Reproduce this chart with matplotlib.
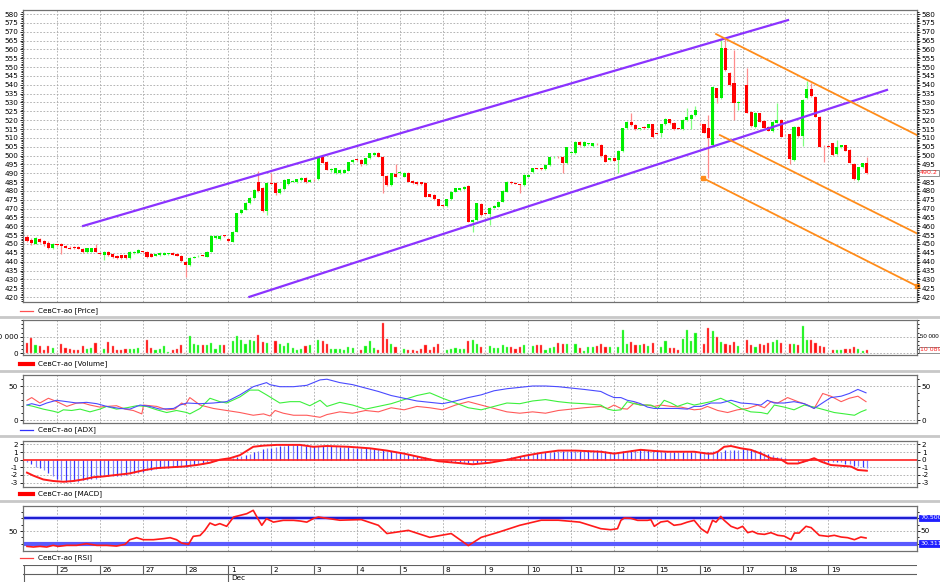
import matplotlib
matplotlib.use('Agg')
import matplotlib.pyplot as plt
from matplotlib.lines import Line2D
import numpy as np

plt.rcParams['font.family'] = ['DejaVu Sans']
plt.rcParams['axes.unicode_minus'] = False

# ---------------- data ----------------
opens = [453.8,452.3,450.2,452.7,451.9,450.4,447.6,449.5,450.0,448.9,
         448.0,448.5,448.5,447.4,445.3,445.7,447.6,444.8,444.0,445.3,
         444.2,443.3,443.5,443.5,441.8,444.8,445.1,445.7,445.7,444.2,
         443.3,443.6,444.0,444.2,444.8,444.4,443.3,440.0,438.0,442.3,
         443.0,443.3,442.9,445.7,453.3,452.7,454.6,452.7,451.4,457.0,
         467.4,469.3,473.1,475.9,485.3,481.5,468.4,484.4,484.4,478.7,
         480.9,484.0,485.3,484.8,485.9,487.2,485.3,486.2,486.6,499.4,
         496.4,492.0,490.0,490.0,490.4,491.5,496.2,497.6,497.6,495.3,
         498.5,500.4,501.7,499.4,488.7,483.4,489.6,490.0,488.1,490.4,
         485.7,485.3,484.9,484.7,478.1,477.7,475.3,471.6,471.3,475.3,
         479.6,480.6,481.1,482.8,462.7,463.6,472.6,467.4,466.8,470.6,
         471.1,474.0,479.6,485.3,484.4,483.8,483.4,488.0,490.6,492.8,
         492.8,492.2,494.7,499.0,499.2,499.4,495.6,501.3,501.3,507.9,
         505.4,506.5,505.4,506.5,506.0,500.3,497.5,498.5,497.6,502.6,
         515.4,519.2,517.3,515.0,516.3,515.7,517.7,512.5,512.5,517.7,
         520.5,518.6,515.4,515.0,520.1,520.5,522.9,518.0,517.6,515.4,
         506.0,538.0,532.3,560.6,546.5,540.8,529.9,530.2,539.9,524.8,
         516.2,523.9,519.6,516.4,513.9,518.6,520.1,511.6,512.0,497.5,
         516.3,511.1,532.3,537.4,533.2,522.0,505.4,505.4,506.9,500.7,
         504.9,505.8,503.1,495.2,486.2,493.4,495.6]
highs = [455.0,453.5,453.8,453.5,452.5,451.5,450.8,450.0,450.5,449.5,
         448.6,449.0,449.0,448.0,448.0,448.0,450.2,445.3,445.8,446.0,
         444.8,443.8,444.0,444.0,446.0,446.2,447.0,446.0,446.2,444.8,
         444.6,445.2,445.2,445.0,445.3,444.9,443.7,440.6,442.7,443.3,
         443.6,443.6,446.0,455.0,455.0,455.0,455.0,453.2,457.4,467.8,
         469.7,473.5,476.3,481.0,491.0,482.0,484.8,490.0,484.8,481.6,
         486.6,487.0,486.2,487.0,487.6,487.6,486.6,486.6,499.0,500.0,
         496.8,492.8,493.2,492.3,492.3,496.6,498.0,498.0,498.0,498.9,
         501.7,502.1,502.1,499.8,489.1,490.4,495.0,490.8,490.8,490.8,
         486.1,485.7,485.3,485.1,478.5,478.5,475.7,472.0,475.7,480.0,
         481.9,481.9,482.9,483.2,464.0,473.4,473.0,467.8,471.0,472.0,
         474.4,480.6,485.7,485.7,484.8,484.2,489.4,489.4,493.2,493.2,
         493.2,495.1,499.4,499.6,499.6,499.8,505.1,501.7,508.3,508.3,
         508.3,507.0,507.3,506.9,506.4,500.7,498.9,498.9,503.0,515.8,
         519.6,524.3,517.7,515.8,516.8,518.1,518.1,512.9,518.1,521.0,
         520.9,519.0,515.8,520.5,526.7,523.3,528.0,518.4,518.0,522.9,
         539.4,538.4,566.0,566.0,547.0,559.7,530.9,530.6,549.3,525.2,
         524.6,524.3,520.0,516.8,519.6,529.5,520.5,512.0,512.4,516.7,
         516.8,531.8,542.0,541.0,533.6,522.4,505.8,505.8,507.3,509.0,
         506.2,506.2,503.5,495.6,493.8,496.0,499.0]
lows = [451.0,449.5,449.8,450.5,449.0,447.0,447.2,449.0,444.4,447.5,
        447.0,447.2,447.0,445.0,445.0,445.3,445.3,444.2,441.0,443.0,
        442.0,441.3,441.3,441.3,441.5,444.5,444.8,445.0,442.0,442.5,
        443.0,443.3,443.6,443.9,443.5,443.0,440.0,431.6,437.6,441.9,
        442.6,443.0,442.6,445.3,453.0,452.3,454.2,451.4,451.0,456.6,
        467.0,469.0,472.7,475.5,479.3,468.0,466.5,484.0,477.5,478.3,
        480.5,483.6,485.0,484.4,485.5,484.4,485.0,485.8,486.2,495.6,
        491.6,490.5,489.6,489.6,490.0,491.1,495.8,497.2,494.0,494.9,
        498.1,500.0,499.0,479.0,483.0,483.0,487.7,489.6,487.7,484.9,
        484.0,483.6,483.4,476.4,476.4,474.9,471.2,471.0,470.9,474.9,
        479.2,480.2,480.7,462.3,457.0,463.2,466.0,467.0,460.5,470.2,
        470.7,473.6,479.2,484.0,483.7,479.0,483.0,487.6,490.2,492.4,
        492.0,491.8,494.3,498.6,498.8,490.0,495.2,500.9,500.9,505.6,
        505.0,506.1,505.0,506.1,499.4,496.2,497.1,496.7,490.0,502.2,
        515.0,516.9,514.5,514.6,515.0,515.3,510.1,512.1,510.5,517.3,
        517.8,514.6,515.0,514.6,519.7,515.0,522.5,517.2,512.6,487.2,
        505.0,529.5,531.9,548.0,539.5,520.1,525.8,529.8,523.8,516.3,
        515.8,518.8,515.4,513.7,513.5,518.2,510.3,511.2,495.0,497.1,
        510.7,505.5,531.9,533.2,521.6,504.6,496.6,504.6,499.9,500.3,
        504.5,502.4,495.6,486.2,485.6,493.0,489.8]
closes = [451.9,450.4,453.2,451.2,450.0,447.6,450.2,449.3,448.9,448.0,
          447.4,447.6,447.4,445.3,447.6,447.6,445.7,444.6,445.3,443.8,
          442.5,441.8,441.8,441.8,445.7,445.7,446.6,445.5,442.9,442.9,
          444.2,444.8,444.8,444.8,443.8,443.3,440.4,438.0,442.3,442.9,
          443.3,443.2,445.7,454.6,454.6,454.6,454.4,451.9,457.0,467.4,
          469.3,473.1,475.9,480.6,479.7,468.4,484.4,484.2,478.7,481.2,
          486.2,486.6,485.8,486.6,487.2,484.8,486.2,486.0,498.5,496.0,
          492.0,492.3,492.8,491.9,491.9,496.2,497.6,497.4,495.1,498.5,
          501.3,501.7,499.4,488.5,483.4,490.0,488.1,490.4,490.4,485.3,
          484.4,484.0,483.8,476.8,476.8,475.3,471.6,471.4,475.3,479.6,
          481.5,481.5,482.5,462.7,463.6,473.0,466.4,467.2,470.6,471.6,
          474.0,480.2,485.3,484.4,484.1,483.6,489.0,489.0,492.8,492.6,
          492.6,494.7,499.0,499.2,499.0,495.6,504.7,501.5,507.9,506.0,
          507.9,506.7,506.9,506.3,499.8,496.6,498.5,497.1,502.6,515.4,
          519.2,517.3,514.9,515.4,515.6,517.7,510.5,512.3,517.7,520.5,
          518.2,515.0,515.2,520.1,522.0,522.9,525.8,517.6,513.0,509.7,
          539.0,532.3,560.6,548.4,539.9,529.9,530.5,530.0,524.2,516.7,
          524.2,519.2,515.8,514.1,519.2,520.1,510.7,511.4,497.9,516.3,
          511.1,531.4,537.4,533.6,522.0,505.0,505.2,505.0,500.3,504.9,
          505.8,502.8,496.0,486.6,493.4,495.6,490.2]
volumes = [31,46,26,22,11,21,16,2,29,16, 12,9,11,22,13,16,31,2,14,33,
           22,11,9,13,14,13,16,2,41,16, 9,12,21,4,9,12,26,2,52,29,
           24,24,26,32,12,24,24,2,36,51, 41,27,41,37,54,34,32,2,37,27,
           22,32,17,11,12,22,24,2,39,36, 29,14,12,14,9,19,17,2,11,22,
           36,17,11,92,42,29,19,2,14,10, 9,6,12,26,10,19,29,2,11,12,
           16,12,14,36,39,29,19,2,22,17, 16,24,19,19,14,19,24,2,21,26,
           24,11,16,19,31,29,27,2,29,16, 7,19,19,22,29,19,19,2,19,69,
           29,34,24,24,29,21,32,2,19,36, 16,16,11,44,69,36,61,2,27,76,
           67,49,34,29,24,34,21,2,39,24, 19,27,26,32,34,39,30,2,27,27,
           24,81,39,39,32,21,19,2,11,11, 9,14,14,19,14,6,10]  # thousands

macd_hist = [-0.3,-0.5,-0.9,-1.1,-1.4,-1.8,-2.2,-2.5,-2.7,-2.9,
             -2.9,-2.8,-2.9,-2.7,-2.7,-2.6,-2.5,-2.3,-2.2,-2.2,
             -2.2,-2.1,-2.1,-2.0,-1.9,-1.8,-1.7,-1.6,-1.4,-1.3,
             -1.2,-1.1,-1.05,-1.05,-1.0,-1.0,-0.9,-0.9,-0.8,-0.7,
             -0.6,-0.5,-0.3,-0.2,-0.15,0.05,0.0,-0.1,0.2,0.3,
             0.5,0.6,0.8,1.05,1.2,1.35,1.5,1.6,1.7,1.8,
             1.85,1.9,1.9,1.9,1.9,1.85,1.8,1.8,1.8,1.8,
             1.8,1.75,1.75,1.7,1.7,1.65,1.6,1.6,1.55,1.5,
             1.5,1.45,1.4,1.3,1.2,1.1,1.0,0.9,0.8,0.7,
             0.6,0.5,0.4,0.3,0.2,0.1,0.0,-0.1,-0.2,-0.25,
             -0.3,-0.35,-0.4,-0.4,-0.4,-0.4,-0.35,-0.3,-0.2,-0.1,
             0.0,0.1,0.2,0.3,0.4,0.5,0.6,0.7,0.8,0.85,
             0.9,0.95,1.0,1.05,1.1,1.1,1.15,1.15,1.2,1.2,
             1.2,1.25,1.25,1.3,1.3,1.2,1.05,1.05,1.05,1.15,
             1.2,1.3,1.3,1.35,1.35,1.3,1.3,1.2,1.15,1.05,
             1.05,1.05,1.05,1.05,1.05,1.05,1.05,1.05,0.95,1.05,
             1.15,1.15,1.05,1.3,1.3,1.3,1.3,1.35,1.35,1.35,
             1.3,1.15,0.9,0.75,0.6,0.4,0.4,0.2,0.0,0.0,
             -0.25,-0.25,-0.15,0.2,0.0,-0.15,-0.25,-0.25,-0.25,-0.35,
             -0.35,-0.5,-0.6,-0.8,-0.85,-0.9,-1.15]

macd_x = [0,1.5,3.8,6.1,8.5,10.8,13.1,15.5,17.8,20.9,24,27.1,30.3,33.4,36.5,39.6,
          42.7,45,47.4,49.7,52.8,55.2,58.3,63.7,66.8,70,75,80,84,88,92,96,100,104,
          108,112,116,120,124,128,132,133.9,137,140.1,143.2,146.4,149.5,155.7,158.8,
          160,161.2,162.7,164.3,166.6,168.9,171.3,173.6,176,177.5,179.9,182.2,183.7,
          185.3,187.6,190,192.3,193.9,196]
macd_line = [-1.7,-2.1,-2.6,-2.8,-2.9,-2.8,-2.6,-2.3,-2.2,-2.0,-1.8,-1.4,-1.1,-1.0,-0.9,-0.7,
             -0.4,0.0,0.2,0.6,1.7,1.85,1.95,1.95,1.7,1.8,1.7,1.5,1.2,0.8,0.3,-0.2,-0.4,-0.6,
             -0.4,0.0,0.5,0.9,1.2,1.2,1.1,1.05,0.8,1.05,1.3,1.15,1.05,1.05,0.8,
             0.8,1.05,1.7,1.8,1.5,1.3,0.8,0.2,0.0,-0.5,-0.5,-0.1,0.2,
             -0.25,-0.7,-0.8,-0.9,-1.35,-1.45]

adx_blue_x = [0,1.1,3,4.6,6.9,9.3,11.6,13.9,16.3,18.6,21.7,24,26.4,28.7,31,34.2,35.7,37.3,
              40.4,43.5,46.6,49.7,52.8,55.9,56.7,59,62.2,65.3,68.4,70,73,76,79,82,85,88,91,
              94,97,100,103,106,109,112,115,118,121,124,127,130,133.9,135.5,137,138.6,140.1,
              141.7,143.2,144.8,146.4,149.5,151.8,154.1,155.7,157.3,159.6,161.9,164.3,166.6,
              168.9,171.3,172.8,174.4,176.7,179,181.4,183.7,186.1,187.6,190,191.9,193.9,195.8]
adx_blue = [22,24,21,25,29,27,25,26,24,20,17,16,22,20,16,17,22,25,
            24,25,27,37,49,55,52,49,49,51,59,60,55,52,47,42,36,32,28,
            26,24,28,33,37,43,46,48,50,50,49,47,45,42,37,33,33,29,
            27,24,19,17,17,17,16,20,20,25,25,29,25,
            24,22,29,25,25,27,24,17,27,33,35,39,45,40]
adx_green_x = [0,1.5,3.8,6.1,7.3,8.5,10.4,12.4,14.7,17,18.6,20.9,23.3,25.6,27.9,30.3,32.6,
               34.9,37.3,38,40.4,42.7,45,46.6,49.7,52,54,55.9,59,61.4,63.7,66,68.4,70,73,76,
               79,82,85,88,91,94,97,100,103,106,109,112,115,118,121,124,127,130,133.9,135.5,
               137,138.6,140.1,141.7,143.2,145.6,147.2,148.7,150.3,151.8,154.1,155.7,157.3,
               159.6,161.9,164.3,166.6,168.9,171.3,172.8,174.4,176.7,179,181.4,183.7,186.1,
               188.4,190.8,193.1,194.6,195.8]
adx_green = [22,20,16,13,11,15,14,16,12,16,20,16,18,21,20,15,11,
             14,11,9,17,32,27,25,34,44,44,37,25,27,27,21,29,20,26,22,
             16,20,24,30,36,40,32,25,18,15,20,25,24,28,30,27,25,24,22,16,
             14,15,27,24,22,22,17,29,25,20,25,22,24,
             27,32,25,17,12,11,9,22,19,15,22,19,15,
             11,9,7,12,15]
adx_red_x = [0,1.1,3,5,7,9.3,11.6,13.1,14.7,17,18.6,20.9,22.9,24.8,26.8,27.2,30.3,32.6,
             34.5,36.1,36.9,38,40.4,43.5,46.6,49.7,52.8,55.2,56.7,57.9,59.8,62.2,65.3,68.4,
             70,73,76,79,82,85,88,91,94,97,100,103,106,109,112,115,118,121,124,127,130,
             133.9,135.5,137,138.6,140.1,141.7,143.2,144.8,146.4,147.9,150.3,152.6,154.1,
             155.7,157.3,158.8,161.2,163.5,165.8,168.2,170.5,172.1,173.6,175.2,177.5,179.9,
             182.2,183.7,185.7,187.6,190,191.9,193.9,195.8]
adx_red = [29,33,25,32,27,20,25,25,22,19,20,21,16,14,9,22,20,15,
           16,25,22,33,22,17,14,11,7,9,6,14,10,7,7,4,
           8,12,10,14,12,18,15,20,18,15,22,27,22,17,12,10,12,10,14,16,18,
           20,17,22,17,16,25,22,22,20,22,20,19,17,
           15,16,20,14,11,15,17,22,18,27,25,33,27,
           22,17,39,35,27,32,35,27]

rsi_x = [0,1.5,3,4.6,6.1,7.3,9.3,11.6,13.9,16.3,18.6,20.9,22.9,24,25.6,27.1,29.5,31.8,
         33.4,34.9,36.1,37.7,38.8,40.4,41.5,42.7,43.9,45,46.6,48.2,51.3,52.8,54,54.8,55.9,
         57.5,59.8,62.2,63.7,65.3,66.8,68,73,78,82,84,89,94,99,103,106,110,115,120,124,129,
         133.9,136.2,137.8,138.6,139.4,140.9,142.5,144.8,145.6,146.4,147.9,149.5,151,152.6,
         154.1,155.7,157.3,158.8,160,160.8,161.9,162.7,164.3,165.8,167,168.2,169.3,170.5,
         172.1,173.6,175.2,176.7,178.3,179.1,180.2,181.8,183,184.9,186.9,188.4,190,191.5,
         193.1,194.6,195.8]
rsi_vals = [25.8,24.8,25.8,24.8,27.4,25.8,27.4,27.4,30,27.4,27.4,26.3,29,36.3,39.5,36.3,36.3,37.9,
            39.5,36.3,31,29,41.6,43,51,62.6,59,61.6,57.4,72,77.3,82.6,68,59,69.5,
            64,66.8,66.8,65.8,64,69.5,72,67,68,59,46,51,40,46,27,40,48,59,67,67,64,
            53.7,52,53.7,66.8,70.5,70,66.8,66.8,67.8,57.4,64.2,65.8,59,60.5,
            64,66.8,53.7,46.8,66.8,64,73,66.8,57.4,53.7,57.4,47.4,49.5,45.8,
            44.7,47.4,43.2,42,36.3,46.8,46.8,57.4,55.3,43.2,41.6,43.2,40.5,39.5,
            36.3,40.5,39]

rsi_hi, rsi_lo = 70.5, 30.311
last_price = 490.2
last_volume = 10089

day_labels = ['25','26','27','28','1','2','3','4','5','8','9','10','11','12','15','16','17','18','19']
day_start = [7 + 10*k for k in range(len(day_labels))]

chan_up_x, chan_up_y = [13.1, 177.6], [460.2, 576.6]
chan_lo_x, chan_lo_y = [51.9, 200.7], [420.1, 537.1]
or1_x, or1_y = [160.8, 208.5], [568.7, 510.6]
or2_x, or2_y = [161.7, 208.5], [511.6, 455.0]
or3_x, or3_y = [157.8, 207.6], [487.2, 426.3]

assert len(opens) == len(highs) == len(lows) == len(closes) == len(volumes) == len(macd_hist) == 197

# ---------------- figure ----------------
W, H = 940, 582
fig = plt.figure(figsize=(W/100, H/100), dpi=100)
fig.patch.set_facecolor('white')

def rect(x0, y0, x1, y1):
    return [x0/W, 1 - y1/H, (x1 - x0)/W, (y1 - y0)/H]

XL = (-0.93, 207.7)
FS = 5.2
BFS = 4.5
GRID = dict(color='#a8a8a8', lw=0.6, ls=(0, (2, 2)))
n = len(closes)
idx = np.arange(n)
up = np.array(closes) >= np.array(opens)

def style(ax, yl):
    ax.set_xlim(*XL)
    ax.set_ylim(*yl)
    ax.set_xticks([])
    for s in ax.spines.values():
        s.set_color('#707070'); s.set_linewidth(0.9)
    ax.tick_params(axis='y', which='both', left=True, right=True, labelleft=True,
                   labelright=True, labelsize=FS, length=2.5, width=0.6, pad=1,
                   colors='black')
    ax.tick_params(axis='y', which='minor', length=1.5)
    for d in day_start:
        ax.axvline(d, **GRID, zorder=0)

def fig_line(x0, x1, y, **kw):
    fig.add_artist(Line2D([x0/W, x1/W], [1 - y/H, 1 - y/H], **kw))

def legend(y, label, color, lw):
    fig_line(20, 33, y, color=color, lw=lw)
    fig.text(38/W, 1 - y/H, 'СевСт-ао [' + label + ']', fontsize=FS, va='center', ha='left')

def box(ax, y, text, fc, tc):
    ax.text(1.0035, y, text, transform=ax.get_yaxis_transform(), fontsize=BFS, color=tc,
            va='center', ha='left', zorder=10,
            bbox=dict(boxstyle='square,pad=0.12', fc=fc, ec='#808080' if fc == 'white' else fc,
                      lw=0.6))

# price panel
ax = fig.add_axes(rect(23, 10, 917, 302))
style(ax, (417.2, 582.3))
yt = np.arange(420, 581, 5)
ax.set_yticks(yt)
ax.set_yticks(np.arange(418, 582, 1), minor=True)
ax.set_yticklabels([str(v) for v in yt])
ax.tick_params(axis='y', labelright=False)
for v in yt:
    ax.axhline(v, **GRID, zorder=0)
wick_col = np.where(up, '#80ff80', '#ff8c8c')
body_col = np.where(up, '#00ee00', '#ff0000')
ax.vlines(idx, lows, highs, colors=wick_col, lw=0.9, zorder=2)
body_lo = np.minimum(opens, closes)
body_h = np.maximum(np.abs(np.array(closes) - np.array(opens)), 0.45)
ax.bar(idx, body_h, bottom=body_lo, width=0.72, color=body_col, lw=0, zorder=3)
ax.plot(chan_up_x, chan_up_y, color='#8b33ff', lw=1.6, zorder=4)
ax.plot(chan_lo_x, chan_lo_y, color='#8b33ff', lw=1.6, zorder=4)
oc = '#ff8c1a'
ax.plot(or1_x, or1_y, color=oc, lw=1.3, zorder=4)
ax.plot(or2_x, or2_y, color=oc, lw=1.3, zorder=4)
ax.plot(or3_x, or3_y, color=oc, lw=1.3, zorder=4, marker='s', ms=3.5, clip_on=False)
axr = ax.twinx()
axr.set_ylim(ax.get_ylim())
axr.set_yticks(yt)
axr.set_yticks(np.arange(418, 582, 1), minor=True)
axr.set_yticklabels(['' if v == 490 else str(v) for v in yt])
axr.tick_params(axis='y', which='both', labelsize=FS, length=2.5, width=0.6, pad=1)
axr.tick_params(axis='y', which='minor', length=1.5)
for s in axr.spines.values():
    s.set_visible(False)
box(axr, last_price, f'{last_price:.1f}', 'white', '#ff2020')
legend(311, 'Price', '#ff5050', 0.9)
fig_line(0, 940, 316.5, color='#c8c8c8', lw=2)

# volume panel
ax = fig.add_axes(rect(23, 320, 917, 355))
style(ax, (-5100, 100300))
ax.set_yticks([0, 50000])
ax.set_yticklabels(['0', '50 000'])
ax.set_yticks(np.arange(0, 100001, 12500), minor=True)
ax.tick_params(axis='y', labelright=False)
ax.axhline(50000, **GRID, zorder=0)
ax.axhline(0, **GRID, zorder=0)
vol = np.array(volumes) * 1000
ax.bar(idx, vol, width=0.5, color=np.where(up, '#10f010', '#ff1010'),
       edgecolor=np.where(up, '#90ff90', '#ff9090'), lw=0.3, zorder=3)
ax.text(1.003, 50000, '50 000', transform=ax.get_yaxis_transform(), fontsize=4.4,
        family='Liberation Sans', va='center', ha='left')
box(ax, last_volume, f'{last_volume // 1000} {last_volume % 1000:03d}', 'white', '#ff2020')
legend(364, 'Volume', '#ff0000', 3)
fig_line(0, 940, 370.5, color='#c8c8c8', lw=2)

# ADX panel
ax = fig.add_axes(rect(23, 375, 917, 423))
style(ax, (-4.4, 66.2))
ax.set_yticks([0, 50])
ax.set_yticks([10, 20, 30, 40, 60], minor=True)
ax.axhline(50, **GRID, zorder=0)
ax.axhline(0, **GRID, zorder=0)
ax.plot(adx_red_x, adx_red, color='#ff5a5a', lw=0.8)
ax.plot(adx_green_x, adx_green, color='#3cf03c', lw=0.8)
ax.plot(adx_blue_x, adx_blue, color='#4a4aff', lw=0.8)
legend(430, 'ADX', '#3030ff', 0.9)
fig_line(0, 940, 436, color='#c8c8c8', lw=2)

# MACD panel
ax = fig.add_axes(rect(23, 441, 917, 487))
style(ax, (-3.59, 2.46))
ax.set_yticks([-3, -2, -1, 0, 1, 2])
for v in [-3, -2, -1, 1, 2]:
    ax.axhline(v, **GRID, zorder=0)
ax.vlines(idx, 0, macd_hist, colors=['#3838ff' if k % 2 else '#8080ff' for k in idx],
          lw=0.9, zorder=2)
ax.axhline(0, color='#ff2020', lw=1.2, zorder=3)
ax.plot(macd_x, macd_line, color='#ff1a1a', lw=1.4, zorder=4)
legend(494, 'MACD', '#ff0000', 3)
fig_line(0, 940, 501, color='#c8c8c8', lw=2)

# RSI panel
ax = fig.add_axes(rect(23, 506, 917, 551))
style(ax, (18.5, 89.4))
ax.set_yticks([50])
ax.set_yticks([30, 40, 60, 70, 80], minor=True)
ax.tick_params(axis='y', labelright=False)
ax.axhline(50, **GRID, zorder=0)
ax.axhline(rsi_hi, color='#b8b8ff', lw=3, zorder=1)
ax.axhline(rsi_hi, color='#0000c8', lw=1.2, zorder=2)
ax.axhline(rsi_lo, color='#5a5aff', lw=3, zorder=2)
ax.plot(rsi_x, rsi_vals, color='#ff1a1a', lw=1.2, zorder=4)
tr = ax.get_yaxis_transform()
ax.text(1.0035, 50, '50', transform=tr, fontsize=FS, va='center', ha='left')
for v in (rsi_hi, rsi_lo):
    box(ax, v, f'{v:.3f}', '#2020ff', 'white')
legend(558, 'RSI', '#ff4040', 0.9)

# date axis
axd = fig.add_axes(rect(23, 565, 917, 582))
axd.set_xlim(*XL)
axd.set_ylim(1, 0)
axd.axis('off')
axd.plot([XL[0], XL[1]], [0.02, 0.02], color='#606060', lw=0.8)
axd.plot([XL[0], XL[1]], [0.53, 0.53], color='#606060', lw=0.8)
axd.plot([XL[0] + 0.2, XL[0] + 0.2], [0, 1], color='#606060', lw=0.8)
for d, lab in zip(day_start, day_labels):
    top = 1.0 if lab == '1' else 0.53
    axd.plot([d, d], [0, top], color='#606060', lw=0.8)
    axd.text(d + 0.6, 0.28, lab, fontsize=FS, va='center', ha='left')
axd.text(day_start[4] + 0.6, 0.78, 'Dec', fontsize=FS, va='center', ha='left')

fig.savefig('out.png', dpi=100, facecolor='white')
